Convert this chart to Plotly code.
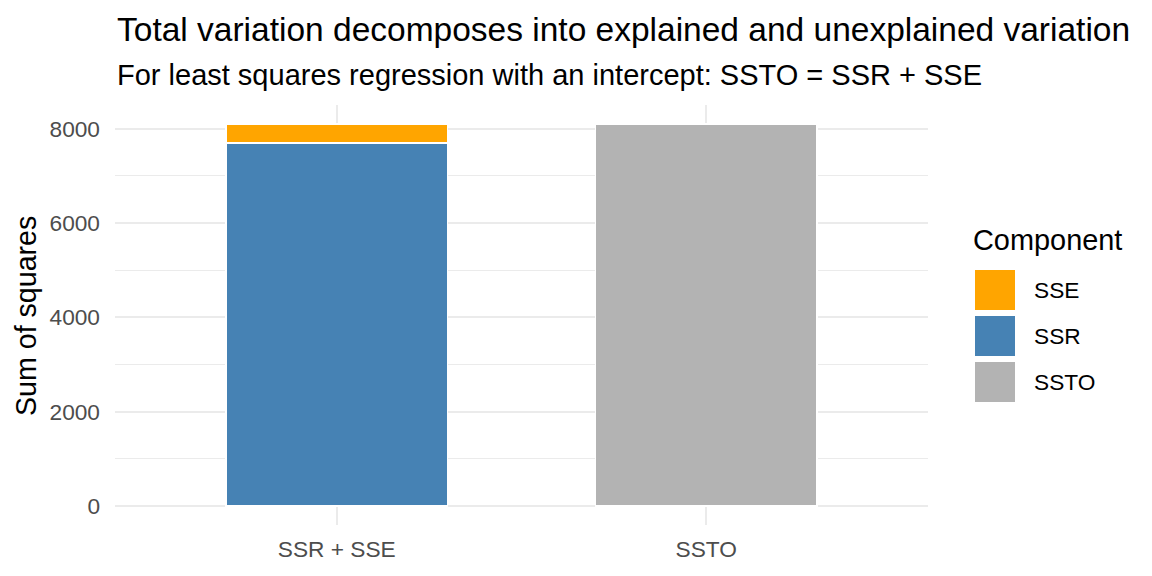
import plotly.graph_objects as go

# values
categories = ["SSR + SSE", "SSTO"]
ssr_value = 7695
sse_value = 400
ssto_value = 8095
y_ticks = [0, 2000, 4000, 6000, 8000]
legend_items = ["SSE", "SSR", "SSTO"]
colors = {"SSE": "#FFA500", "SSR": "#4682B4", "SSTO": "#B3B3B3"}

FONT = "Liberation Sans, Arial, sans-serif"
W, H = 1152, 576
OFF = 8  # page body margin
L, R, T, B = 115 - OFF, 232, 105 - OFF, 59
PW, PH = W - L - R, H - T - B


def px_x(px):
    return (px - OFF - L) / PW


def px_y(py):
    return (H - B - (py - OFF)) / PH


fig = go.Figure()
bar_line = dict(color="white", width=1.8)
fig.add_trace(go.Bar(x=[categories[0]], y=[ssr_value], name="SSR", width=0.6,
                     marker=dict(color=colors["SSR"], line=bar_line), showlegend=False))
fig.add_trace(go.Bar(x=[categories[0]], y=[sse_value], name="SSE", width=0.6,
                     marker=dict(color=colors["SSE"], line=bar_line), showlegend=False))
fig.add_trace(go.Bar(x=[categories[1]], y=[ssto_value], name="SSTO", width=0.6,
                     marker=dict(color=colors["SSTO"], line=bar_line), showlegend=False))

ymax = max(ssr_value + sse_value, ssto_value)

fig.update_layout(
    width=W, height=H,
    margin=dict(l=L, r=R, t=T, b=B, autoexpand=False),
    barmode="stack",
    paper_bgcolor="white", plot_bgcolor="white",
    font=dict(family=FONT, color="black"),
    xaxis=dict(
        type="category", categoryorder="array", categoryarray=categories,
        range=[-0.6, 1.6], showgrid=True, gridcolor="#EBEBEB", gridwidth=2,
        zeroline=False, showline=False, ticks="",
        tickfont=dict(size=22.7, color="#4D4D4D"), ticklabelstandoff=8,
    ),
    yaxis=dict(
        range=[-0.05 * ymax, 1.05 * ymax], tickvals=y_ticks,
        showgrid=True, gridcolor="#EBEBEB", gridwidth=2,
        minor=dict(dtick=1000, tick0=0, showgrid=True, gridcolor="#EBEBEB", gridwidth=1),
        zeroline=False, showline=False, ticks="",
        tickfont=dict(size=22.7, color="#4D4D4D"), ticklabelstandoff=14,
    ),
    showlegend=False,
)

annotations = [
    dict(text="Total variation decomposes into explained and unexplained variation",
         x=px_x(114.5), y=px_y(29.5), xanchor="left", yanchor="middle",
         font=dict(size=33.5, color="black")),
    dict(text="For least squares regression with an intercept: SSTO = SSR + SSE",
         x=px_x(114.5), y=px_y(74.5), xanchor="left", yanchor="middle",
         font=dict(size=29, color="black")),
    dict(text="Sum of squares", textangle=-90,
         x=px_x(26), y=px_y(316), xanchor="center", yanchor="middle",
         font=dict(size=28.6, color="black")),
    dict(text="Component", x=px_x(971), y=px_y(239.5), xanchor="left", yanchor="middle",
         font=dict(size=28.9, color="black")),
]

shapes = []
key_top = 270
for i, comp in enumerate(legend_items):
    y0 = key_top + i * 46
    shapes.append(dict(type="rect", xref="paper", yref="paper",
                       x0=px_x(975), x1=px_x(1015), y0=px_y(y0 + 40), y1=px_y(y0),
                       fillcolor=colors[comp], line=dict(width=0)))
    annotations.append(dict(text=comp, x=px_x(1032), y=px_y(y0 + 20),
                            xanchor="left", yanchor="middle",
                            font=dict(size=22.7, color="black")))

for a in annotations:
    a.update(xref="paper", yref="paper", showarrow=False)

fig.update_layout(annotations=annotations, shapes=shapes)

fig.write_html("out.html")
